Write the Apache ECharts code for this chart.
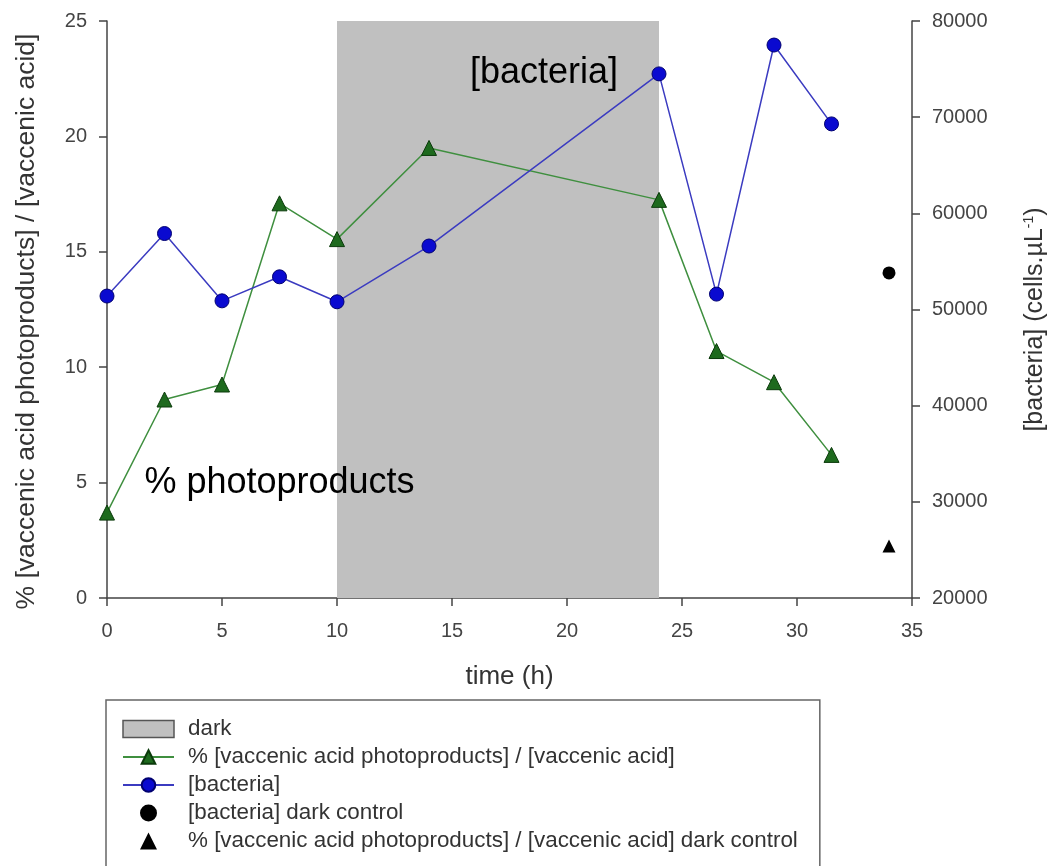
<!DOCTYPE html>
<html>
<head>
<meta charset="utf-8">
<script src="https://cdn.jsdelivr.net/npm/echarts@6/dist/echarts.min.js"></script>
<style>html,body{margin:0;padding:0;background:#fff;overflow:hidden}#c{width:1048px;height:866px}</style>
</head>
<body>
<div id="c"></div>
<script>
// ---- data ----
var timeH = [0, 2.5, 5, 7.5, 10, 14, 24, 26.5, 29, 31.5];
var photoPct = [3.7, 8.6, 9.25, 17.1, 15.55, 19.5, 17.25, 10.7, 9.35, 6.2];
var bacteria = [51400, 57900, 50900, 53400, 50800, 56600, 74500, 51600, 77500, 69300];
var darkStart = 10, darkEnd = 24;
var bacteriaDarkControl = [[34, 53800]];
var photoDarkControl = [[34, 2.25]];
var xTicks = {min: 0, max: 35, interval: 5};
var yLeftTicks = {min: 0, max: 25, interval: 5};
var yRightTicks = {min: 20000, max: 80000, interval: 10000};
var annotBacteria = [[19.0, 74600]];
var annotPhoto = [[7.5, 5.0]];
var names = {
  dark: 'dark',
  photo: '% [vaccenic acid photoproducts] / [vaccenic acid]',
  bact: '[bacteria]',
  bactCtl: '[bacteria] dark control',
  photoCtl: '% [vaccenic acid photoproducts] / [vaccenic acid] dark control'
};

var FONT = "'Liberation Sans', Arial, sans-serif";
var TRI = 'path://M0,-1L1,1L-1,1Z';
var chart = echarts.init(document.getElementById('c'));
var axisCol = '#444';
function plainNum(v) { return String(v); }
function axisCommon(extra) {
  var o = {
    type: 'value',
    splitLine: {show: false},
    axisLine: {show: true, onZero: false, lineStyle: {color: axisCol, width: 1.5}},
    axisTick: {show: true, inside: false, length: 8, lineStyle: {color: axisCol, width: 1.5}},
    axisLabel: {fontFamily: FONT, fontSize: 20, color: '#444', formatter: plainNum},
    nameTextStyle: {fontFamily: FONT, fontSize: 26.5, color: '#333'}
  };
  for (var k in extra) {
    if (typeof extra[k] === 'object' && o[k] && !Array.isArray(extra[k])) {
      for (var j in extra[k]) o[k][j] = extra[k][j];
    } else o[k] = extra[k];
  }
  return o;
}
function zip(xs, ys) { return xs.map(function (x, i) { return [x, ys[i]]; }); }

chart.setOption({
  animation: false,
  backgroundColor: '#fff',
  grid: {left: 107, right: 136, top: 21, bottom: 268, containLabel: false, outerBoundsMode: 'none'},
  xAxis: axisCommon({
    min: xTicks.min, max: xTicks.max, interval: xTicks.interval,
    name: 'time (h)', nameLocation: 'middle', nameGap: 66,
    axisLabel: {margin: 23},
    nameTextStyle: {fontSize: 26}
  }),
  yAxis: [
    axisCommon({
      min: yLeftTicks.min, max: yLeftTicks.max, interval: yLeftTicks.interval,
      position: 'left',
      name: names.photo, nameLocation: 'middle', nameGap: 67, nameRotate: 90,
      axisLabel: {margin: 20},
      nameTextStyle: {padding: [0, 24, 0, 0]}
    }),
    axisCommon({
      min: yRightTicks.min, max: yRightTicks.max, interval: yRightTicks.interval,
      position: 'right',
      name: '[bacteria] (cells.µL{sup|-1})', nameLocation: 'middle', nameGap: 110, nameRotate: 90,
      axisLabel: {margin: 20},
      nameTextStyle: {fontSize: 25, padding: [0, 20, 0, 0],
        rich: {sup: {fontFamily: FONT, fontSize: 14, color: '#333', verticalAlign: 'top', lineHeight: 26}}}
    })
  ],
  legend: {
    orient: 'vertical', left: 106, top: 700, height: 150,
    padding: [18, 22, 30, 16],
    itemGap: 6, itemWidth: 51, itemHeight: 17,
    symbolKeepAspect: true,
    borderColor: '#666', borderWidth: 1.5,
    textStyle: {fontFamily: FONT, fontSize: 22.4, color: '#333', padding: [0, 0, 0, 9]},
    data: [
      {name: names.dark, icon: 'rect', itemStyle: {color: '#c0c0c0', borderColor: '#555', borderWidth: 1.5}},
      {name: names.photo},
      {name: names.bact},
      {name: names.bactCtl, icon: 'circle', itemStyle: {color: '#000', opacity: 1}},
      {name: names.photoCtl, icon: TRI, itemStyle: {color: '#000', opacity: 1}}
    ]
  },
  series: [
    {
      name: names.dark, type: 'line', data: [], z: 0,
      itemStyle: {color: '#c0c0c0'},
      markArea: {silent: true, itemStyle: {color: '#c0c0c0', opacity: 1}, data: [[{xAxis: darkStart}, {xAxis: darkEnd}]]}
    },
    {
      name: names.photo, type: 'line', yAxisIndex: 0, data: zip(timeH, photoPct), z: 3,
      symbol: 'triangle', symbolSize: 15,
      lineStyle: {color: '#3f8f3f', width: 1.5},
      itemStyle: {color: '#1e6a1e', borderColor: '#0b3a0b', borderWidth: 1, opacity: 1}
    },
    {
      name: names.bact, type: 'line', yAxisIndex: 1, data: zip(timeH, bacteria), z: 4,
      symbol: 'circle', symbolSize: 14,
      lineStyle: {color: '#3b3bc0', width: 1.5},
      itemStyle: {color: '#0a0ad0', borderColor: '#000070', borderWidth: 1, opacity: 1}
    },
    {
      name: names.bactCtl, type: 'scatter', yAxisIndex: 1, data: bacteriaDarkControl,
      symbol: 'circle', symbolSize: 13, itemStyle: {color: '#000', opacity: 1}
    },
    {
      name: names.photoCtl, type: 'scatter', yAxisIndex: 0, data: photoDarkControl,
      symbol: 'triangle', symbolSize: 13, itemStyle: {color: '#000', opacity: 1}
    },
    {
      type: 'scatter', yAxisIndex: 1, data: annotBacteria, symbolSize: 0, silent: true,
      itemStyle: {opacity: 1},
      label: {show: true, position: 'inside', formatter: '[bacteria]', fontFamily: FONT, fontSize: 36, color: '#000', opacity: 1, textBorderWidth: 0}
    },
    {
      type: 'scatter', yAxisIndex: 0, data: annotPhoto, symbolSize: 0, silent: true,
      itemStyle: {opacity: 1},
      label: {show: true, position: 'inside', formatter: '% photoproducts', fontFamily: FONT, fontSize: 36, color: '#000', opacity: 1, textBorderWidth: 0}
    }
  ]
});
</script>
</body>
</html>
